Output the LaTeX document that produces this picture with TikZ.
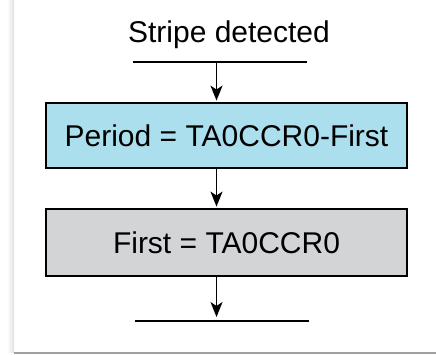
\documentclass[tikz,border=0pt]{standalone}
\usepackage{fontspec}
\setmainfont{Liberation Sans}
\usetikzlibrary{arrows.meta}
\definecolor{boxblue}{RGB}{172,223,238}
\definecolor{boxgray}{RGB}{211,212,214}
\definecolor{shadowgray}{RGB}{160,160,160}
\tikzset{
  flowbox/.style={draw=black, line width=1.8pt, minimum width=361pt, inner sep=0pt, font=\fontsize{30}{36}\selectfont},
  conn/.style={line width=1.8pt, shorten >=1.5pt, -{Stealth[length=15pt,width=12pt,inset=4pt]}},
  bar/.style={line width=1.8pt},
  label/.style={font=\fontsize{30}{36}\selectfont, inner sep=0pt}
}
\begin{document}
\begin{tikzpicture}[x=1pt,y=1pt]
\useasboundingbox (0,0) rectangle (436,354);
\fill[white] (0,0) rectangle (436,354);
\shade[left color=white, right color=black!12] (7,2) rectangle (14,354);
\fill[shadowgray] (14,0.5) rectangle (436,2.5);
\node[label] (title) at (229,319) {Stripe detected};
\coordinate (tl) at (133,292);
\coordinate (tr) at (307,292);
\coordinate (top) at (216.5,292);
\node[flowbox, fill=boxblue, minimum height=65pt] (b1) at (226.5,218.5) {Period = TA0CCR0-First};
\node[flowbox, fill=boxgray, minimum height=67pt] (b2) at (226.5,111.5) {First = TA0CCR0};
\coordinate (bl) at (135,33);
\coordinate (br) at (309,33);
\coordinate (endp) at (216.5,37);
\draw[bar] (tl) -- (tr);
\draw[bar] (bl) -- (br);
\draw[conn] (top) -- (top |- b1.north);
\draw[conn] (b1.south -| top) -- (b2.north -| top);
\draw[conn, shorten >=0pt] (b2.south -| top) -- (endp);
\end{tikzpicture}
\end{document}
